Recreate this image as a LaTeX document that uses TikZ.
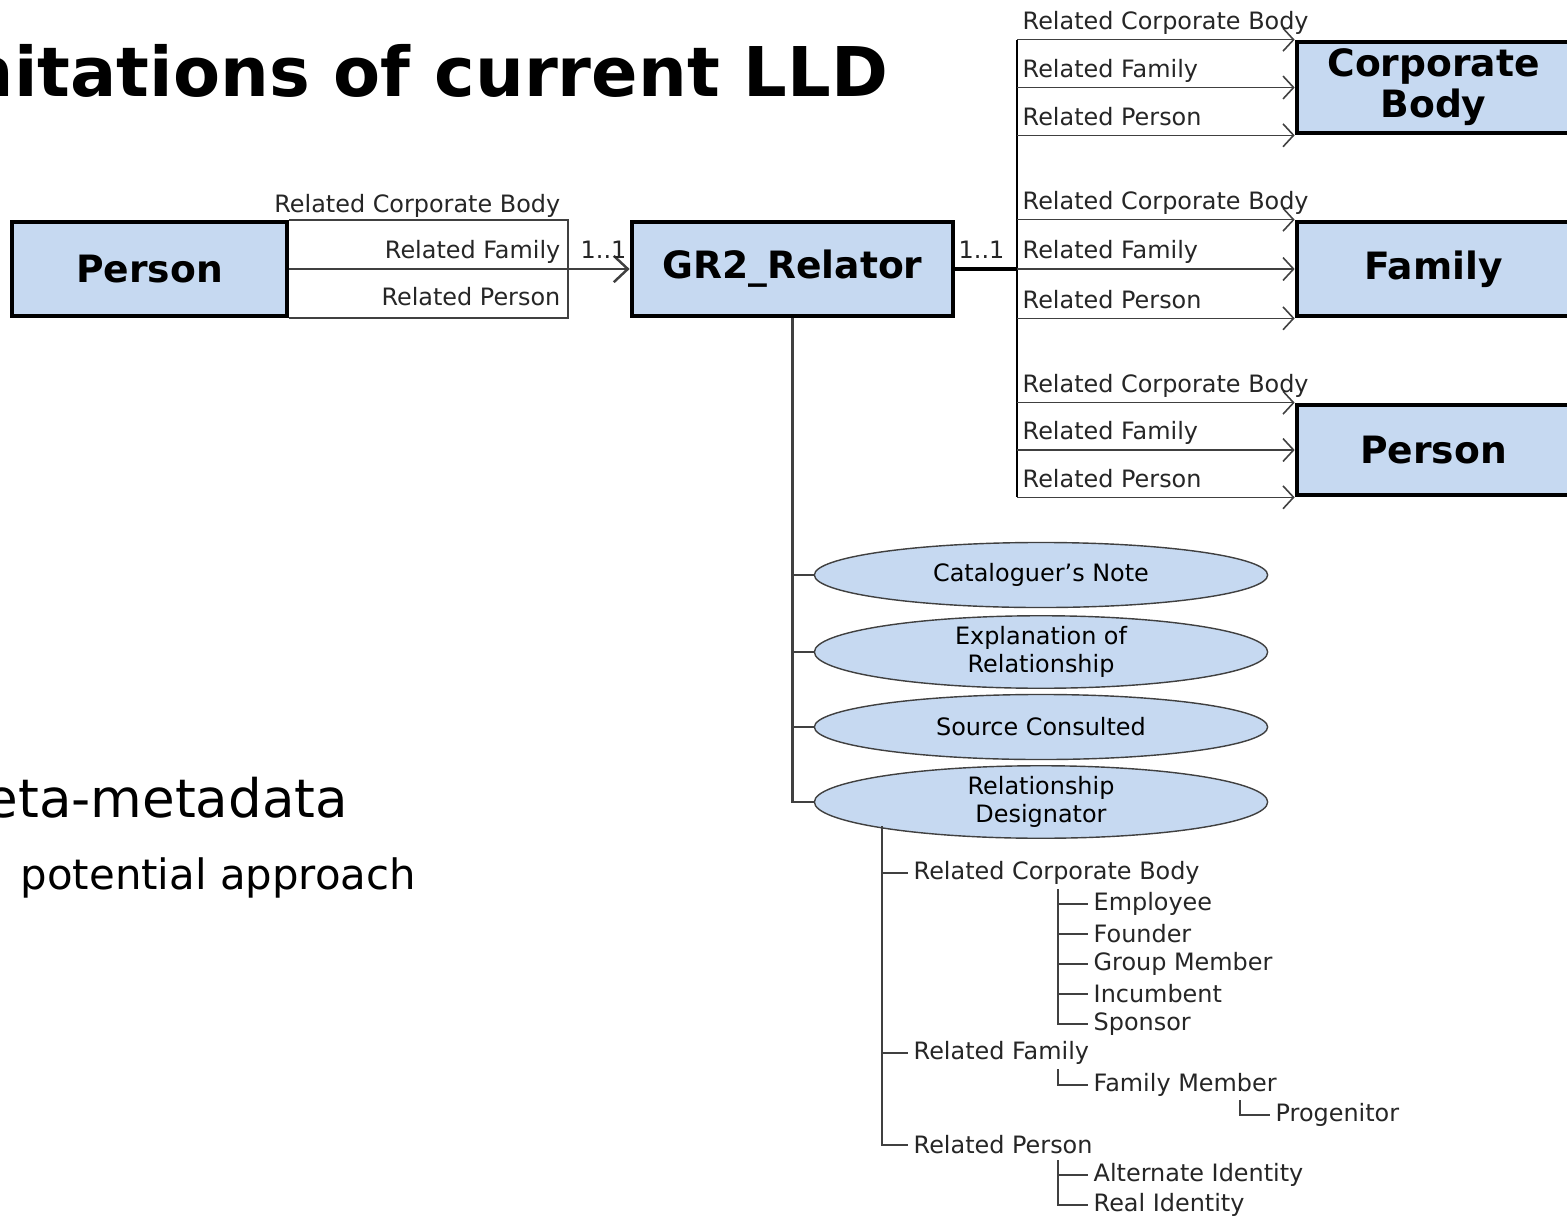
\documentclass[tikz,border=0pt]{standalone}
\usepackage{fontspec}
\setmainfont{DejaVu Sans}
\usetikzlibrary{arrows.meta, shapes.geometric}
\definecolor{boxblue}{HTML}{C6D9F1}
\definecolor{linegray}{HTML}{404040}
\tikzset{
  entity/.style = {draw, line width = 1.3pt, fill = boxblue, font = \fontsize{10.7}{11.7}\selectfont\bfseries, align = center, inner sep = 0},
  attr/.style = {draw = linegray, fill = boxblue, ellipse, inner sep = 0, minimum width = 4.53cm, minimum height = 0.65cm, font = \fontsize{6.8}{8}\selectfont, align = center},
  lbl/.style = {font = \fontsize{6.8}{8}\selectfont, inner sep = 0, text = black!85},
  leaf/.style = {lbl, anchor = west, inner xsep = 1.42pt},
  rel/.style = {linegray, line width = 0.45pt, -{Straight Barb[length = 3pt, width = 6.5pt]}},
  tree/.style = {linegray, line width = 0.5pt}
}

\begin{document}
\begin{tikzpicture}[x = 0.01cm, y = -0.01cm]
    \clip (0, 0) rectangle (1567, 1218);
    \fill [white] (0, 0) rectangle (1567, 1218);

    \node [anchor = base west, inner sep = 0, font = \fontsize{19.5}{22}\selectfont\bfseries] (title) at (-125, 97) {Limitations of current LLD};
    \node [anchor = base west, inner sep = 0, font = \fontsize{15.1}{18}\selectfont] (meta) at (-61, 817) {Meta-metadata};
    \node [anchor = base west, inner sep = 0, font = \fontsize{11.9}{14}\selectfont] (approach) at (20, 889) {potential approach};

    \node [entity, minimum width = 2.75cm, minimum height = 0.94cm] (personL) at (149.5, 269) {Person};
    \node [entity, minimum width = 3.21cm, minimum height = 0.94cm] (relator) at (792.5, 269) {GR2\_Relator};
    \node [entity, minimum width = 2.73cm, minimum height = 0.91cm] (corpBody) at (1433.5, 87.5) {Corporate\\Body};
    \node [entity, minimum width = 2.73cm, minimum height = 0.94cm] (family) at (1433.5, 269) {Family};
    \node [entity, minimum width = 2.73cm, minimum height = 0.90cm] (personR) at (1433.5, 450) {Person};

    \coordinate (hubL) at (568, 269);
    \draw [tree] (personL.north east) -| (hubL) |- (personL.south east);
    \draw [rel, line width = 0.7pt, -{Straight Barb[length = 4pt, width = 7.5pt]}] (personL) -- (relator);
    \node [lbl, anchor = base east] (lcb) at (561, 212) {Related Corporate Body};
    \node [lbl, anchor = base east] (lfam) at (561, 258) {Related Family};
    \node [lbl, anchor = base east] (lper) at (561, 305) {Related Person};
    \node [lbl, anchor = base west] (cardL) at (580, 258) {1..1};

    \coordinate (hubR) at (1017, 269);
    \draw [line width = 0.9pt] (relator) -- (hubR);
    \draw [line width = 0.7pt] (corpBody.north west -| hubR) -- (personR.south west -| hubR);
    \node [lbl, anchor = base west] (cardR) at (958, 258) {1..1};
    \foreach \ent in {corpBody, family, personR} {
        \draw [rel] (\ent.north west -| hubR) -- (\ent.north west);
        \draw [rel] (\ent.west -| hubR) -- (\ent.west);
        \draw [rel] (\ent.south west -| hubR) -- (\ent.south west);
        \node [lbl, anchor = base west, xshift = 1.42pt, yshift = 2.85pt] (\ent-cb) at (\ent.north west -| hubR) {Related Corporate Body};
        \node [lbl, anchor = base west, xshift = 1.42pt, yshift = 2.85pt] (\ent-fam) at (\ent.west -| hubR) {Related Family};
        \node [lbl, anchor = base west, xshift = 1.42pt, yshift = 2.85pt] (\ent-per) at (\ent.south west -| hubR) {Related Person};
    }

    \node [attr] (note) at (1041, 575) {Cataloguer’s Note};
    \node [attr] (expl) at (1041, 652) {Explanation of\\Relationship};
    \node [attr] (source) at (1041, 727) {Source Consulted};
    \node [attr] (desig) at (1041, 802) {Relationship\\Designator};
    \draw [tree, line width = 0.6pt] (relator.south) |- (desig.west);
    \foreach \att in {note, expl, source}
        \draw [tree, line width = 0.6pt] (relator.south |- \att.west) -- (\att.west);

    \coordinate (dtop) at (882, 826);
    \node [leaf] (tcb) at (908, 873) {Related Corporate Body};
    \node [leaf] (tfam) at (908, 1053) {Related Family};
    \node [leaf] (tper) at (908, 1145) {Related Person};
    \draw [tree] (dtop) |- (tper.west);
    \draw [tree] (dtop |- tcb.west) -- (tcb.west);
    \draw [tree] (dtop |- tfam.west) -- (tfam.west);

    \coordinate (cbtop) at (1058, 889);
    \foreach \name/\txt [count = \i] in {emp/Employee, fdr/Founder, grp/Group Member, inc/Incumbent, spn/Sponsor}
        \node [leaf] (\name) at (1088, 874 + 30 * \i) {\txt};
    \draw [tree] (cbtop) |- (spn.west);
    \foreach \name in {emp, fdr, grp, inc}
        \draw [tree] (cbtop |- \name.west) -- (\name.west);

    \coordinate (famtop) at (1058, 1069);
    \node [leaf] (fmem) at (1088, 1085) {Family Member};
    \draw [tree] (famtop) |- (fmem.west);
    \coordinate (memtop) at (1240, 1100);
    \node [leaf] (prog) at (1270, 1115) {Progenitor};
    \draw [tree] (memtop) |- (prog.west);

    \coordinate (pertop) at (1058, 1160);
    \node [leaf] (alt) at (1088, 1175) {Alternate Identity};
    \node [leaf] (real) at (1088, 1205) {Real Identity};
    \draw [tree] (pertop) |- (real.west);
    \draw [tree] (pertop |- alt.west) -- (alt.west);
\end{tikzpicture}
\end{document}
